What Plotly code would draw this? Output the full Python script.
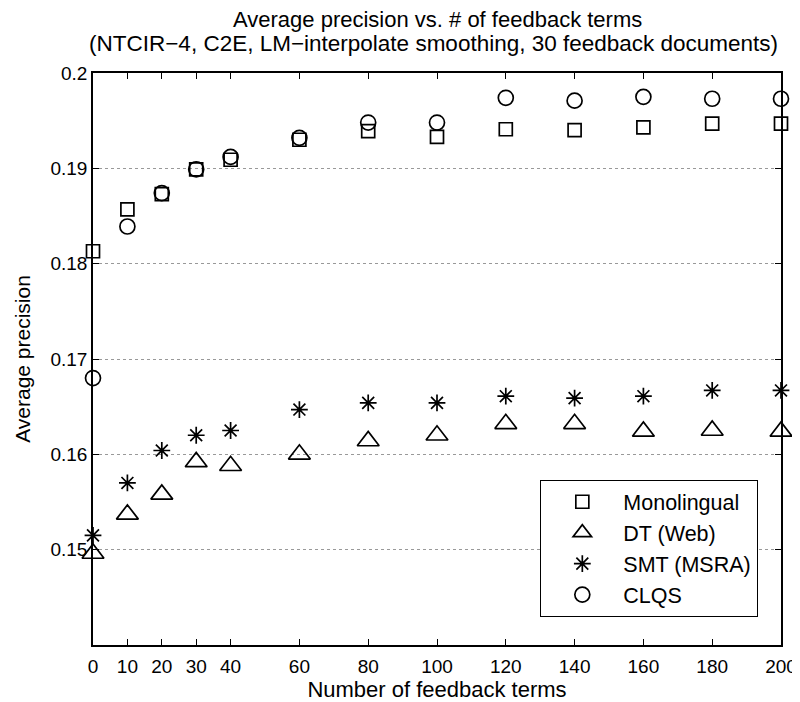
import plotly.graph_objects as go

x_terms = [0, 10, 20, 30, 40, 60, 80, 100, 120, 140, 160, 180, 200]
mono = [0.1813, 0.1857, 0.1873, 0.1899, 0.1909, 0.1930, 0.1939, 0.1933, 0.1941, 0.1940, 0.1943, 0.1947, 0.1947]
dt_web = [0.1496, 0.1537, 0.1558, 0.1592, 0.1588, 0.1600, 0.1614, 0.1620, 0.1632, 0.1632, 0.1624, 0.1625, 0.1624]
smt_msra = [0.1515, 0.1570, 0.1604, 0.1620, 0.1625, 0.1647, 0.1654, 0.1654, 0.1661, 0.1659, 0.1661, 0.1667, 0.1667]
clqs = [0.1680, 0.1839, 0.1874, 0.1899, 0.1912, 0.1932, 0.1948, 0.1948, 0.1974, 0.1971, 0.1975, 0.1973, 0.1973]

x_ticks = [0, 10, 20, 30, 40, 60, 80, 100, 120, 140, 160, 180, 200]
y_ticks = [0.15, 0.16, 0.17, 0.18, 0.19, 0.2]
y_tick_text = ["0.15", "0.16", "0.17", "0.18", "0.19", "0.2"]

title_lines = [
    "Average precision vs. # of feedback terms",
    "(NTCIR\u22124, C2E, LM\u2212interpolate smoothing, 30 feedback documents)",
]

FONT = "Liberation Sans, Arial, Helvetica, sans-serif"

series = [
    ("Monolingual", mono, "square-open", 13),
    ("DT (Web)", dt_web, "triangle-up-open", 19),
    ("SMT (MSRA)", smt_msra, "asterisk-open", 14),
    ("CLQS", clqs, "circle-open", 15),
]

fig = go.Figure()
for i, (name, vals, sym, sz) in enumerate(series):
    fig.add_trace(go.Scatter(
        x=x_terms, y=vals, mode="markers", name=name,
        legendgroup=f"g{i}",
        marker=dict(symbol=sym, size=sz, color="black",
                    line=dict(color="black", width=1.7)),
        cliponaxis=False,
    ))

fig.update_layout(
    width=792, height=694,
    paper_bgcolor="white", plot_bgcolor="white",
    margin=dict(l=85, r=19, t=65, b=57),
    font=dict(family=FONT, size=19, color="black"),
    showlegend=True,
    legend=dict(
        x=0.9666, y=0.049, xanchor="right", yanchor="bottom",
        bgcolor="white", bordercolor="black", borderwidth=1.3,
        font=dict(family=FONT, size=21.5, color="black"),
        traceorder="grouped", tracegroupgap=0,
        itemwidth=72,
    ),
    annotations=[
        dict(text=title_lines[0], x=0.5, y=1.0944, xref="paper", yref="paper",
             xanchor="center", yanchor="middle", showarrow=False,
             font=dict(family=FONT, size=22, color="black")),
        dict(text=title_lines[1], x=0.4956, y=1.0524, xref="paper", yref="paper",
             xanchor="center", yanchor="middle", showarrow=False,
             font=dict(family=FONT, size=22.5, color="black")),
    ],
)

fig.update_xaxes(
    range=[0, 200], tickmode="array", tickvals=x_ticks,
    ticks="inside", ticklen=6, tickwidth=1.2, tickcolor="black",
    showline=True, linecolor="black", linewidth=1.5, mirror="ticks",
    showgrid=False, zeroline=False, ticklabelstandoff=3, automargin=False,
    title=dict(text="Number of feedback terms", standoff=8,
               font=dict(family=FONT, size=22)),
    tickfont=dict(family=FONT, size=19),
)
fig.update_yaxes(
    range=[0.14, 0.2], tickmode="array", tickvals=y_ticks, ticktext=y_tick_text,
    ticks="inside", ticklen=6, tickwidth=1.2, tickcolor="black",
    showline=True, linecolor="black", linewidth=1.5, mirror="ticks",
    showgrid=True, gridcolor="#999999", griddash="dot", gridwidth=1,
    zeroline=False, automargin=False,
    title=dict(text="Average precision", standoff=14,
               font=dict(family=FONT, size=21)),
    tickfont=dict(family=FONT, size=19),
)

fig.write_html("out.html")
